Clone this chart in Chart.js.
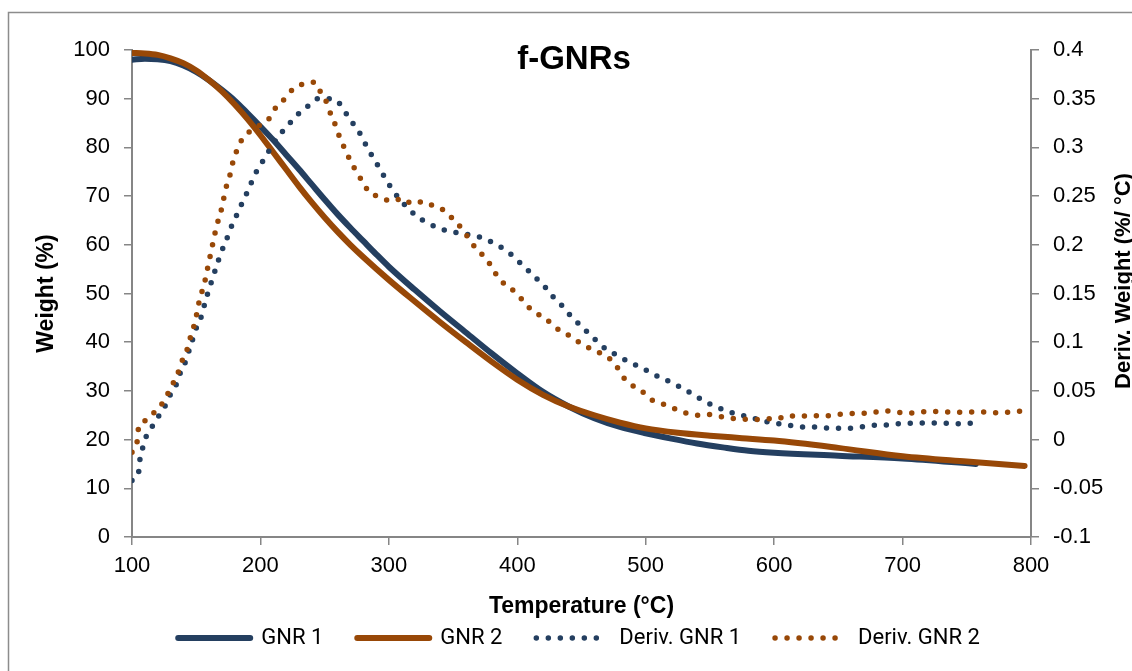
<!DOCTYPE html>
<html>
<head>
<meta charset="utf-8">
<title>f-GNRs</title>
<script src="https://cdn.jsdelivr.net/npm/chart.js@4.4.1/dist/chart.umd.min.js"></script>
<style>
  body { margin: 0; background: #fff; }
  #wrap { width: 1132px; height: 671px; position: relative; }
</style>
</head>
<body>
<div id="wrap"><canvas id="tga"></canvas></div>
<script>
// weight loss curves (%)
var tempW1 = [100, 110, 120, 130, 140, 150, 160, 170, 180, 190, 200, 210, 220, 230, 240, 250, 260, 270, 280, 290, 300, 320, 340, 360, 380, 400, 420, 440, 460, 480, 500, 520, 540, 560, 580, 600, 650, 700, 757];
var gnr1 = [98, 98.2, 98.1, 97.7, 96.8, 95.5, 93.8, 91.8, 89.6, 87, 84.3, 81.5, 78.5, 75.5, 72.4, 69.3, 66.3, 63.5, 60.8, 58.1, 55.5, 50.8, 46.3, 42, 37.7, 33.6, 29.8, 26.8, 24.4, 22.6, 21.3, 20.2, 19.2, 18.4, 17.7, 17.3, 16.7, 16.1, 15];

var tempW2 = [100, 110, 120, 130, 140, 150, 160, 170, 180, 190, 200, 210, 220, 230, 240, 250, 260, 270, 280, 300, 320, 340, 360, 380, 400, 420, 440, 460, 480, 500, 525, 550, 575, 600, 650, 700, 750, 795];
var gnr2 = [99.4, 99.3, 99, 98.3, 97.3, 95.8, 93.8, 91.5, 88.8, 85.8, 82.5, 79, 75.5, 72, 68.7, 65.6, 62.7, 60, 57.5, 52.8, 48.4, 44.1, 40, 36, 32.3, 29.2, 26.8, 25, 23.5, 22.3, 21.4, 20.8, 20.3, 19.8, 18.3, 16.6, 15.5, 14.6];

// derivative curves (%/°C)
var tempD1 = [100, 105, 106, 108, 111, 116, 121, 126, 130, 135, 138, 142, 145, 148, 151, 155, 157, 160, 163, 166, 169, 173, 176, 180, 184, 188, 192, 196, 201, 206, 211, 217, 223, 230, 237, 245, 255, 263, 268, 274, 279, 283, 288, 293, 298, 303, 309, 316, 323, 331, 340, 349, 359, 369, 377, 386, 394, 401, 408, 415, 422, 428, 435, 441, 448, 455, 462, 469, 478, 486, 495, 503, 512, 521, 529, 538, 546, 555, 563, 573, 582, 591, 601, 610, 620, 630, 639, 649, 658, 668, 678, 687, 697, 706, 716, 725, 735, 744, 754];
var deriv1 = [-0.042, -0.035, -0.022, -0.010, 0.003, 0.014, 0.0245, 0.035, 0.0465, 0.058, 0.070, 0.081, 0.094, 0.106, 0.118, 0.130, 0.142, 0.154, 0.167, 0.1785, 0.191, 0.203, 0.2145, 0.226, 0.238, 0.249, 0.261, 0.273, 0.284, 0.295, 0.3055, 0.316, 0.325, 0.335, 0.3425, 0.350, 0.350, 0.343, 0.332, 0.321, 0.311, 0.300, 0.289, 0.278, 0.2665, 0.256, 0.246, 0.236, 0.228, 0.222, 0.2165, 0.2135, 0.211, 0.2087, 0.2046, 0.1985, 0.1915, 0.183, 0.1743, 0.1654, 0.156, 0.1464, 0.1373, 0.128, 0.1187, 0.1098, 0.101, 0.093, 0.0864, 0.0804, 0.0749, 0.0694, 0.0632, 0.0581, 0.0523, 0.0457, 0.039, 0.0337, 0.0292, 0.0255, 0.0225, 0.0193, 0.0168, 0.0152, 0.013, 0.013, 0.012, 0.0116, 0.0116, 0.013, 0.0147, 0.015, 0.0163, 0.0167, 0.017, 0.017, 0.0167, 0.0163, 0.017];

var tempD2 = [100, 104, 105, 111, 118, 124, 129, 133, 137, 140, 144, 146, 149, 151, 153, 156, 158, 160, 162, 164, 166, 169, 171, 173, 176, 178, 181, 185, 191, 199, 207, 212, 219, 225, 233, 242, 247, 252, 255, 259, 262, 266, 270, 275, 280, 285, 293, 302, 311, 318, 327, 336, 345, 351, 358, 363, 369, 376, 381, 386, 394, 401, 407, 414, 422, 429, 437, 445, 453, 462, 470, 477, 482, 489, 497, 504, 513, 522, 530, 540, 548, 557, 566, 575, 584, 593, 602, 610, 619, 628, 638, 647, 656, 665, 675, 684, 693, 702, 711, 720, 730, 739, 748, 757, 766, 775, 784, 793];
var deriv2 = [-0.013, -0.002, 0.011, 0.020, 0.029, 0.038, 0.050, 0.0605, 0.0725, 0.0845, 0.0964, 0.108, 0.120, 0.133, 0.146, 0.158, 0.1707, 0.183, 0.1957, 0.208, 0.220, 0.233, 0.245, 0.2576, 0.270, 0.282, 0.2946, 0.3066, 0.3157, 0.3223, 0.330, 0.341, 0.350, 0.3593, 0.365, 0.367, 0.3563, 0.3448, 0.333, 0.321, 0.309, 0.298, 0.2862, 0.2746, 0.2638, 0.2535, 0.2494, 0.2447, 0.2477, 0.2422, 0.2443, 0.2388, 0.2337, 0.2244, 0.2152, 0.2046, 0.1947, 0.1854, 0.1752, 0.1648, 0.1562, 0.148, 0.1384, 0.1303, 0.1245, 0.1156, 0.1098, 0.1026, 0.0961, 0.0903, 0.085, 0.0759, 0.065, 0.0562, 0.0498, 0.0414, 0.0368, 0.032, 0.0278, 0.0251, 0.0258, 0.024, 0.022, 0.0213, 0.0203, 0.0214, 0.021, 0.0247, 0.0237, 0.0249, 0.0239, 0.0253, 0.0266, 0.027, 0.027, 0.0297, 0.0287, 0.0273, 0.0276, 0.029, 0.0287, 0.028, 0.0283, 0.0283, 0.0283, 0.0273, 0.0283, 0.0294];

var seriesNames = ['GNR 1', 'GNR 2', 'Deriv. GNR 1', 'Deriv. GNR 2'];
var xTicks = [100, 800, 100];        // min, max, step
var yTicks = [0, 100, 10];
var y1Ticks = [-0.1, 0.4, 0.05];

var blue = '#243f60';
var brown = '#984807';
var axisGrey = '#868686';

function pairs(xs, ys) {
  return xs.map(function(x, i) { return { x: x, y: ys[i] }; });
}

var tickFont = { family: "'Liberation Sans', Arial, sans-serif", size: 22 };
var boldFont = { family: "'Liberation Sans', Arial, sans-serif", size: 23, weight: 'bold', lineHeight: 1 };

/* frame, chart title, x title and right axis title */
var extras = {
  id: 'extras',
  afterDraw: function(chart) {
    var ctx = chart.ctx;
    var area = chart.chartArea;
    ctx.save();
    ctx.strokeStyle = '#8c8c8c';
    ctx.lineWidth = 1.5;
    ctx.strokeRect(8.5, 12.5, 1200, 700);

    ctx.fillStyle = '#000';
    ctx.font = "bold 33px 'Liberation Sans Narrow', 'Liberation Sans', Arial, sans-serif";
    ctx.textAlign = 'center';
    ctx.textBaseline = 'alphabetic';
    ctx.fillText('f-GNRs', 574, 69);

    ctx.font = "bold 23px 'Liberation Sans', Arial, sans-serif";
    ctx.fillText('Temperature (\u00B0C)', (area.left + area.right) / 2, 613);

    ctx.font = "bold 22px 'Liberation Sans', Arial, sans-serif";
    ctx.translate(1130, 281);
    ctx.rotate(-Math.PI / 2);
    ctx.fillText('Deriv. Weight (%/ \u00B0C)', 0, 0);
    ctx.restore();
  }
};

var ctx = document.getElementById('tga');
var chart = new Chart(ctx, {
  type: 'line',
  data: {
    datasets: [{
      label: seriesNames[0],
      data: pairs(tempW1, gnr1),
      yAxisID: 'y',
      order: 3,
      borderColor: blue,
      backgroundColor: blue,
      borderWidth: 6,
      borderCapStyle: 'round',
      cubicInterpolationMode: 'monotone'
    }, {
      label: seriesNames[1],
      data: pairs(tempW2, gnr2),
      yAxisID: 'y',
      order: 2,
      borderColor: brown,
      backgroundColor: brown,
      borderWidth: 6,
      borderCapStyle: 'round',
      cubicInterpolationMode: 'monotone'
    }, {
      label: seriesNames[2],
      data: pairs(tempD1, deriv1),
      yAxisID: 'y1',
      order: 1,
      borderColor: blue,
      backgroundColor: blue,
      borderWidth: 5.5,
      borderDash: [0, 12],
      borderCapStyle: 'round',
      cubicInterpolationMode: 'monotone'
    }, {
      label: seriesNames[3],
      data: pairs(tempD2, deriv2),
      yAxisID: 'y1',
      order: 0,
      borderColor: brown,
      backgroundColor: brown,
      borderWidth: 5.5,
      borderDash: [0, 12],
      borderCapStyle: 'round',
      cubicInterpolationMode: 'monotone'
    }]
  },
  options: {
    responsive: true,
    maintainAspectRatio: false,
    animation: false,
    events: [],
    elements: { point: { radius: 0 } },
    layout: { padding: { left: 26, right: 0, top: 50, bottom: 12 } },
    plugins: {
      tooltip: { enabled: false },
      legend: {
        position: 'bottom',
        labels: {
          usePointStyle: true,
          pointStyleWidth: 72,
          padding: 34,
          color: '#000',
          font: { family: "Roboto, 'Liberation Sans', sans-serif", size: 22 },
          generateLabels: function(chart) {
            return chart.data.datasets.map(function(ds, i) {
              return {
                text: ds.label,
                strokeStyle: ds.borderColor,
                fillStyle: ds.borderColor,
                fontColor: '#000',
                lineWidth: ds.borderWidth,
                lineDash: ds.borderDash || [],
                lineCap: 'round',
                pointStyle: 'line',
                hidden: false,
                datasetIndex: i
              };
            });
          }
        }
      }
    },
    scales: {
      x: {
        type: 'linear',
        position: 'bottom',
        min: xTicks[0], max: xTicks[1],
        ticks: { stepSize: xTicks[2], padding: 8, color: '#000', font: tickFont, maxRotation: 0 },
        grid: { drawOnChartArea: false, drawTicks: true, tickLength: 8, color: axisGrey, lineWidth: 1.5 },
        border: { color: axisGrey, width: 2 },
        afterFit: function(scale) { scale.height = 56; }
      },
      y: {
        position: 'left',
        min: yTicks[0], max: yTicks[1],
        ticks: { stepSize: yTicks[2], padding: 14, color: '#000', font: tickFont },
        grid: { drawOnChartArea: false, drawTicks: true, tickLength: 8, color: axisGrey, lineWidth: 1.5 },
        border: { color: axisGrey, width: 2 },
        title: { display: true, text: 'Weight (%)', color: '#000', font: boldFont, padding: { top: 9, bottom: 0 } },
        afterFit: function(scale) { scale.width = 106; }
      },
      y1: {
        position: 'right',
        min: y1Ticks[0], max: y1Ticks[1],
        ticks: {
          stepSize: y1Ticks[2], padding: 14, color: '#000', font: tickFont,
          callback: function(v) { return String(+v.toFixed(2)); }
        },
        grid: { drawOnChartArea: false, drawTicks: true, tickLength: 8, color: axisGrey, lineWidth: 1.5 },
        border: { color: axisGrey, width: 2 },
        afterFit: function(scale) { scale.width = 101; }
      }
    }
  },
  plugins: [extras]
});
</script>
</body>
</html>
